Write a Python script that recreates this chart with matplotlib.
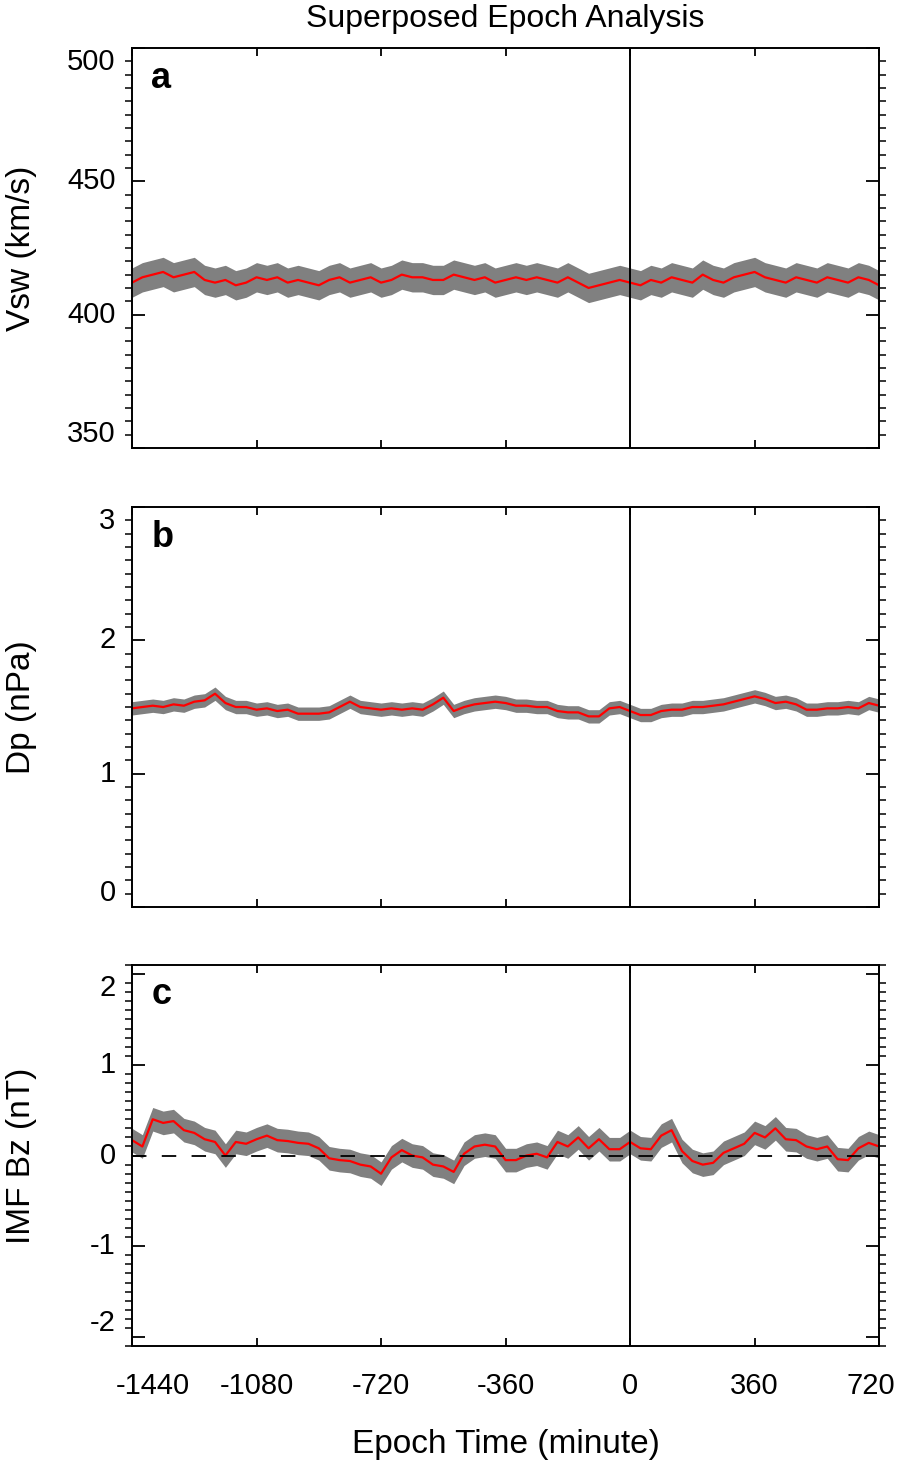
import matplotlib
matplotlib.use("Agg")
import matplotlib.pyplot as plt
from matplotlib.ticker import MultipleLocator
from matplotlib.transforms import offset_copy

plt.rcParams['font.family'] = ['Liberation Sans', 'DejaVu Sans']
plt.rcParams['axes.unicode_minus'] = False

epoch = list(range(-1440, 721, 30))

vsw = [412, 414, 415, 416, 414, 415, 416, 413, 412, 413, 411, 412, 414, 413, 414, 412,
       413, 412, 411, 413, 414, 412, 413, 414, 412, 413, 415, 414, 414, 413, 413, 415,
       414, 413, 414, 412, 413, 414, 413, 414, 413, 412, 414, 412, 410, 411, 412, 413,
       412, 411, 413, 412, 414, 413, 412, 415, 413, 412, 414, 415, 416, 414, 413, 412,
       414, 413, 412, 414, 413, 412, 414, 413, 411]
vsw_err = 5.5

dp = [1.49, 1.50, 1.51, 1.50, 1.52, 1.51, 1.54, 1.55, 1.60, 1.53, 1.50, 1.50, 1.48, 1.49,
      1.47, 1.48, 1.45, 1.45, 1.45, 1.46, 1.50, 1.54, 1.50, 1.49, 1.48, 1.49, 1.48, 1.49,
      1.48, 1.52, 1.57, 1.47, 1.50, 1.52, 1.53, 1.54, 1.53, 1.51, 1.51, 1.50, 1.50, 1.47,
      1.46, 1.46, 1.43, 1.43, 1.49, 1.50, 1.47, 1.44, 1.44, 1.47, 1.48, 1.48, 1.50, 1.50,
      1.51, 1.52, 1.54, 1.56, 1.58, 1.56, 1.53, 1.54, 1.52, 1.48, 1.48, 1.49, 1.49, 1.50,
      1.49, 1.53, 1.51]
dp_err = 0.05

bz = [0.17, 0.10, 0.40, 0.36, 0.38, 0.28, 0.25, 0.18, 0.15, 0.00, 0.15, 0.13, 0.18, 0.22,
      0.17, 0.16, 0.14, 0.13, 0.08, -0.03, -0.05, -0.06, -0.10, -0.12, -0.20, -0.02, 0.06,
      0.00, -0.02, -0.10, -0.12, -0.18, 0.02, 0.10, 0.12, 0.10, -0.05, -0.05, 0.00, 0.02,
      -0.02, 0.15, 0.10, 0.20, 0.08, 0.18, 0.07, 0.07, 0.15, 0.08, 0.07, 0.22, 0.28, 0.05,
      -0.06, -0.10, -0.08, 0.03, 0.08, 0.13, 0.25, 0.20, 0.30, 0.18, 0.17, 0.10, 0.07, 0.10,
      -0.04, -0.05, 0.08, 0.14, 0.10]
bz_err = 0.13

xticks = [-1440, -1080, -720, -360, 0, 360, 720]

panels = [
    ("a", vsw, vsw_err, "Vsw (km/s)", (350, 500), [350, 400, 450, 500], 5),
    ("b", dp, dp_err, "Dp (nPa)", (0, 3), [0, 1, 2, 3], 0.1),
    ("c", bz, bz_err, "IMF Bz (nT)", (-2.1, 2.1), [-2, -1, 0, 1, 2], 0.1),
]
boxes = [
    [0.147, 0.6936, 0.832, 0.2736],
    [0.147, 0.3796, 0.832, 0.2736],
    [0.147, 0.0793, 0.832, 0.2606],
]

fig = plt.figure(figsize=(8.98, 14.62), dpi=100)

for (letter, vals, err, ylab, ylim, yticks, minor), box in zip(panels, boxes):
    ax = fig.add_axes(box)
    lo = [v - err for v in vals]
    hi = [v + err for v in vals]
    ax.fill_between(epoch, lo, hi, color='#808080', lw=0)
    ax.plot(epoch, vals, color='red', lw=1.6)
    ax.axvline(0, color='black', lw=1.4)
    if letter == "c":
        ax.axhline(0, color='black', lw=1.3, ls=(0, (8, 8.5)))
    ax.set_xlim(-1440, 720)
    ax.set_ylim(*ylim)
    ax.set_xticks(xticks)
    ax.set_yticks(yticks)
    ax.yaxis.set_minor_locator(MultipleLocator(minor))
    ax.tick_params(axis='both', direction='in', top=True, right=True, width=1.3)
    ax.tick_params(axis='y', which='major', length=9.5)
    ax.tick_params(axis='y', which='minor', length=5, width=1.1, left=True, right=True)
    ax.tick_params(axis='x', which='major', length=6)
    ax.tick_params(axis='both', labelleft=False, labelbottom=False)
    for s in ax.spines.values():
        s.set_linewidth(1.4)
    # y tick labels placed by hand: ends pulled inside the frame
    ytr = ax.get_yaxis_transform()
    for i, t in enumerate(yticks):
        if i == 0:
            va = 'bottom'
        elif i == len(yticks) - 1:
            va = 'top'
        else:
            va = 'center'
        ax.text(-0.022, t, "%g" % t, transform=ytr, ha='right', va=va, fontsize=21)
    ax.set_ylabel(ylab, fontsize=24, va='center')
    ax.yaxis.set_label_coords(-0.148, 0.5)
    ax.text(0.026, 0.968, letter, transform=ax.transAxes, fontsize=26,
            fontweight='bold', ha='left', va='top')
    if letter == "c":
        # x tick labels; the end ones nudged inward like the original
        xtr = ax.get_xaxis_transform()
        for i, t in enumerate(xticks):
            dx = 0
            if i == 0:
                dx = 21
            elif i == len(xticks) - 1:
                dx = -8
            tr = offset_copy(xtr, fig=fig, x=dx, y=-26, units='dots')
            ax.text(t, 0, "%d" % t, transform=tr, ha='center', va='top', fontsize=21)
        ax.set_xlabel("Epoch Time (minute)", fontsize=24, labelpad=60)

fig.text(0.563, 0.987, "Superposed Epoch Analysis", fontsize=23, ha='center', va='center')

fig.savefig("out.png", dpi=100)
